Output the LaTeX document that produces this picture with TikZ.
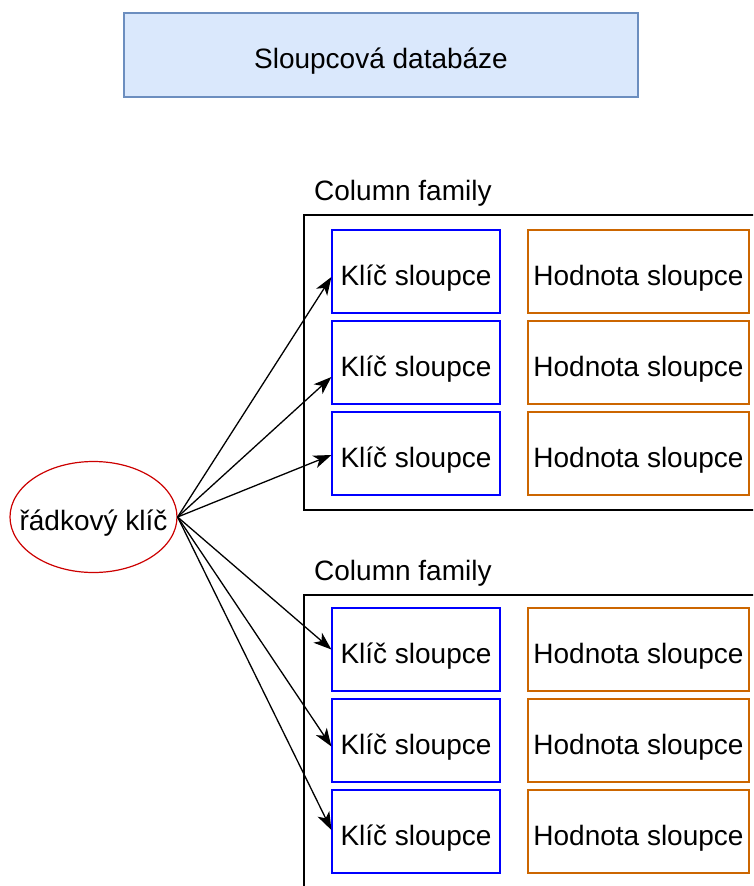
\documentclass[tikz,border=0pt]{standalone}
\usepackage{fontspec}
\setmainfont{Liberation Sans}
\usetikzlibrary{shapes.geometric,arrows.meta}
\definecolor{titlefill}{HTML}{DAE8FC}
\definecolor{titledraw}{HTML}{6C8EBF}
\definecolor{keyblue}{HTML}{0000FF}
\definecolor{valorange}{HTML}{CC6600}
\definecolor{rowred}{HTML}{CC0000}
\tikzset{
  lbl/.style={font=\fontsize{28}{34}\selectfont, text=black,
    text height=31pt, text depth=4pt},
  titlebox/.style={lbl, draw=titledraw, fill=titlefill, line width=1.2pt,
    minimum width=514pt, minimum height=84pt, inner sep=0pt},
  keybox/.style={lbl, draw=keyblue, line width=1.2pt,
    minimum width=168pt, minimum height=83pt, inner sep=0pt},
  valbox/.style={lbl, draw=valorange, line width=1.2pt,
    minimum width=221pt, minimum height=83pt, inner sep=0pt},
  famframe/.style={draw=black, line width=1.2pt},
  famlabel/.style={lbl, anchor=west, inner sep=0pt},
  rowkey/.style={lbl, ellipse, draw=rowred, line width=1.2pt,
    minimum width=167pt, minimum height=111pt, inner sep=0pt},
  linkarrow/.style={draw=black, line width=1.3pt,
    arrows={-Stealth[length=18pt,width=13pt,inset=5pt]}}
}
\begin{document}
\begin{tikzpicture}[x=1pt,y=-1pt]
  \clip (0,0) rectangle (753,886);

  % heading
  \node[titlebox] (title) at (381,55) {Sloupcová databáze};

  % column family frames
  \draw[famframe] (304,215) rectangle (770,510);
  \draw[famframe] (304,595) rectangle (770,900);
  \node[famlabel] (fam1) at (314,187.2) {Column family};
  \node[famlabel] (fam2) at (314,567.2) {Column family};

  % column key / value cells
  \foreach \i/\y in {1/271.5, 2/362.5, 3/453.5, 4/649.5, 5/740.5, 6/831.5} {
    \node[keybox] (k\i) at (416,\y) {Klíč sloupce};
    \node[valbox] (v\i) at (638.5,\y) {Hodnota sloupce};
  }

  % row key (zero-width text box so the ellipse keeps its own size)
  \node[rowkey] (row) at (93.5,517) {\makebox[0pt]{řádkový klíč}};

  % links from the row key to each column key
  \coordinate (t1) at ([yshift=-5.5pt]k1.west);
  \coordinate (t2) at ([yshift=-14.5pt]k2.west);
  \coordinate (t3) at ([yshift=-1.5pt]k3.west);
  \coordinate (t4) at ([yshift=0pt]k4.west);
  \coordinate (t5) at ([yshift=-6pt]k5.west);
  \coordinate (t6) at ([yshift=1.5pt]k6.west);
  \foreach \i in {1,...,6} {
    \draw[linkarrow] (row.east) -- (t\i);
  }
\end{tikzpicture}
\end{document}
